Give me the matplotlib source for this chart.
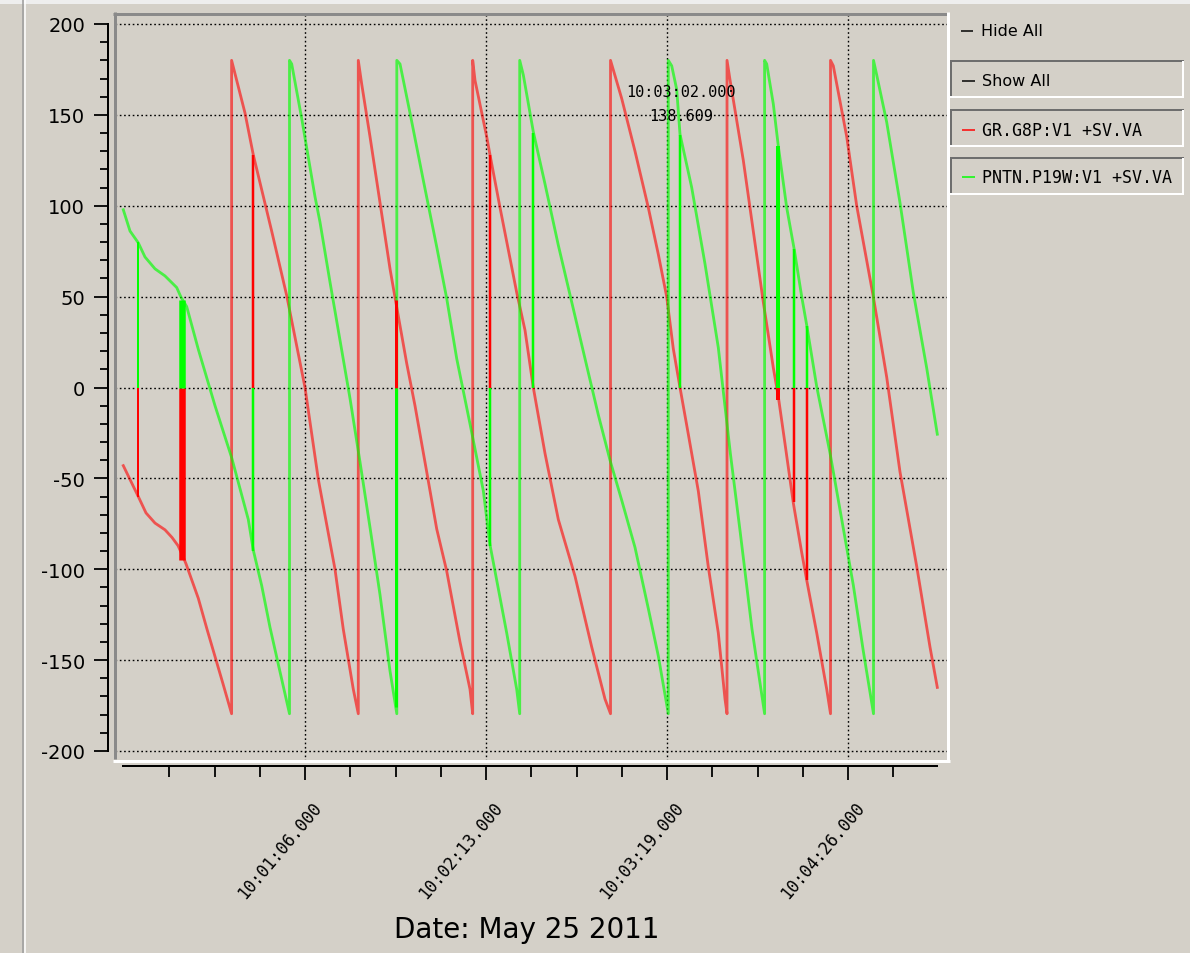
import numpy as np
import matplotlib
matplotlib.use('Agg')
import matplotlib.pyplot as plt
from matplotlib.transforms import ScaledTranslation

plt.rcParams['axes.unicode_minus'] = False

# ---------------- data (seconds after 10:00:00, phase angle in degrees) ----------------
red_t = [-0.26, 5.26, 8.09, 11.41, 15.08, 17.66, 19.87, 21.71, 22.81, 27.34, 30.54, 33.48, 36.42, 39.59,
         39.59, 44.52, 47.57, 54.34, 59.86, 66.59, 71.49, 77.63, 80.68, 84.36, 86.20,
         86.20, 87.45, 90.51, 94.19, 97.87, 99.89, 104.01, 107.06, 111.37, 115.05, 118.73, 123.62, 127.30, 128.29,
         128.29, 129.14, 133.44, 134.66, 138.34, 144.48, 147.54, 150.59, 154.89, 159.79, 165.93, 172.08, 176.97, 179.0,
         179.0, 183.11, 188.01, 192.9, 196.58, 199.67, 202.1, 204.56, 207.62, 211.3, 214.97, 218.65, 221.12, 221.86,
         221.86, 222.96, 227.85, 231.53, 235.21, 238.89, 240.73, 243.2, 246.25, 249.34, 251.18, 254.86, 258.54, 259.94,
         259.94, 260.96, 265.9, 269.57, 275.68, 280.61, 285.5, 291.65, 296.54, 299.23]
red_v = [-43, -60, -69, -74.6, -78.3, -82.5, -87, -93, -97, -116, -133, -148, -163, -179.5,
         180, 151, 128, 86, 50.6, 0, -50.5, -100, -133, -166, -179.5,
         180, 167, 138, 101.7, 65.3, 48, 13.3, -10, -46.4, -77.8, -101, -140, -166, -179.5,
         180, 169, 138, 128, 99, 52.3, 31.5, 0, -36.2, -72.6, -103.8, -142.8, -171.4, -179.5,
         180, 159, 130, 99, 73.3, 49.9, 21.3, 0, -25.7, -57, -98.6, -135, -171.4, -179.5,
         180, 169.3, 125, 86, 47, 10.9, -5, -31, -63.5, -90.8, -106, -135, -166, -179.5,
         180, 177, 138, 100, 50, 5.7, -46.4, -98.4, -142.8, -165]

green_t = [-0.26, 2.21, 5.26, 7.73, 11.41, 15.08, 19.39, 20.97, 23.07, 27.34, 33.48, 39.63, 45.73, 47.57,
           50.66, 53.72, 57.03, 60.89,
           60.89, 61.70, 65.38, 70.27, 72.11, 75.79, 79.47, 83.15, 86.83, 90.51, 94.19, 97.87, 100.37,
           100.37, 101.55, 105.23, 110.12, 115.05, 118.73, 122.41, 127.3, 132.19, 134.66, 137.12, 140.8, 144.48, 145.59,
           145.59, 146.91, 150.59, 154.89, 159.79, 164.72, 169.61, 174.5, 178.81, 183.11, 188.01, 192.9, 196.58, 200.26,
           200.26, 201.51, 203.35, 204.56, 208.87, 213.76, 218.65, 223.07, 226.75, 231.05, 235.69,
           235.69, 236.46, 238.89, 240.73, 243.82, 246.62, 249.34, 251.18, 254.86, 259.75, 264.64, 268.32, 272.0, 275.76,
           275.76, 276.93, 280.61, 285.5, 290.4, 295.33, 299.23]
green_v = [97.8, 86.1, 79.6, 71.8, 65.3, 61.4, 55, 49.7, 44.5, 21, -10, -38.7, -72.6, -89.5,
           -109, -132, -154, -179.5,
           180, 178, 148, 105, 91, 58, 26, -6, -41, -77, -114, -156, -179.5,
           180, 178, 151, 114, 77.4, 49, 15.9, -20, -56.7, -86.6, -106, -135, -166, -179.5,
           180, 172, 140.7, 112, 78.3, 47, 15.9, -15, -40, -62, -88, -121.6, -147.7, -179.5,
           180, 177, 164, 139.4, 110, 68, 22, -36, -80, -133, -179.5,
           180, 178, 156, 132.8, 99, 75.7, 50, 34.3, 0.5, -36, -77.5, -108.7, -145, -179.5,
           180, 172, 146, 101.7, 52.3, 10.7, -25.7]

# samples drawn as bars from zero
bar_t = [5.26, 21.52, 47.57, 99.89, 134.66, 150.59, 204.56, 240.62, 246.51, 251.18]
bar_red = [-60, -95, 128, 48, 128, 0, 0, -7, -63, -106]
bar_green = [80, 48, -90, -176, -87, 140, 139, 133, 76, 34]

x_tick_labels = ['10:01:06.000', '10:02:13.000', '10:03:19.000', '10:04:26.000']
date_label = 'Date: May 25 2011'
series_names = ['GR.G8P:V1 +SV.VA', 'PNTN.P19W:V1 +SV.VA']
annot_time = '10:03:02.000'
annot_value = '138.609'
annot_t = 204.56

# ---------------- styling / layout ----------------
W, H = 1190, 954
BG = '#d4d0c8'
PX = 0.72  # points per pixel at dpi 100
bar_w_px = [2, 6.5, 2.5, 3, 2.5, 2.5, 2.5, 4, 2.5, 2.5]
tick_step = 16.65

fig = plt.figure(figsize=(W / 100, H / 100), dpi=100, facecolor=BG)

L, R, T, B = 115, 948, 14.5, 761.5
ax = fig.add_axes([L / W, 1 - B / H, (R - L) / W, (B - T) / H])
ax.set_facecolor(BG)
pps = 2.718           # pixels per second
t0px = 124.0
y0px, ppu = 388.5, 1.8175
ax.set_xlim((L - t0px) / pps, (R - t0px) / pps)
ax.set_ylim((y0px - B) / ppu, (y0px - T) / ppu)

# grid
y_major = np.arange(-200, 201, 50)
y_minor = np.arange(-200, 201, 10)
x_major = tick_step * np.array([4, 8, 12, 16])
x_minor = tick_step * np.arange(1, 18)
ax.set_yticks(y_major)
ax.set_yticks(y_minor, minor=True)
ax.set_xticks(x_major)
ax.set_xticks(x_minor, minor=True)
ax.set_xticklabels([])
ax.grid(True, which='major', color='black', linewidth=1.0, linestyle=(0, (1.2, 1.9)), zorder=1)
ax.set_axisbelow(True)

for s in ['top', 'right']:
    ax.spines[s].set_visible(False)
ax.spines['left'].set_position(('outward', 7 * PX))
ax.spines['bottom'].set_position(('outward', 5.5 * PX))
ax.spines['left'].set_bounds(-200, 200)
ax.spines['bottom'].set_bounds(-0.4, 299.2)
ax.spines['left'].set_linewidth(2 * PX)
ax.spines['bottom'].set_linewidth(2 * PX)
ax.tick_params(axis='y', which='major', length=14 * PX, width=1.8 * PX, pad=9 * PX,
               labelsize=14, direction='out')
ax.tick_params(axis='y', which='minor', length=8 * PX, width=1.8 * PX, direction='out')
ax.tick_params(axis='x', which='major', length=14 * PX, width=1.8 * PX, direction='out')
ax.tick_params(axis='x', which='minor', length=11 * PX, width=1.8 * PX, direction='out')
for lab in ax.get_yticklabels():
    lab.set_fontfamily('DejaVu Sans')

# series lines
ax.plot(red_t, red_v, color='#ff0000', alpha=0.6, linewidth=2.8 * PX, zorder=3)
ax.plot(green_t, green_v, color='#00ff00', alpha=0.65, linewidth=2.8 * PX, zorder=3)

# bars from zero
for t, rv, gv, w in zip(bar_t, bar_red, bar_green, bar_w_px):
    if rv != 0:
        ax.vlines(t, 0, rv, color='#ff0000', linewidth=w * PX, zorder=4)
    if gv != 0:
        ax.vlines(t, 0, gv, color='#00ff00', linewidth=w * PX, zorder=4)

# x tick labels, rotated
lab_tr = ax.get_xaxis_transform() + ScaledTranslation(13 / 100, -43 / 100, fig.dpi_scale_trans)
for xt, lab in zip(x_major, x_tick_labels):
    ax.text(xt, 0, lab, transform=lab_tr, rotation=50, rotation_mode='anchor',
            ha='right', va='center', fontsize=12, family='DejaVu Sans Mono', clip_on=False)

# annotation
ax.text(annot_t + 0.3, 163, annot_time, ha='center', va='center', fontsize=11,
        family='DejaVu Sans Mono', zorder=6)
ax.text(annot_t + 0.3, 149.5, annot_value, ha='center', va='center', fontsize=11,
        family='DejaVu Sans Mono', zorder=6)

# ---------------- overlay in pixel coordinates ----------------
ov = fig.add_axes([0, 0, 1, 1], zorder=10)
ov.set_xlim(0, W)
ov.set_ylim(H, 0)
ov.axis('off')
ov.patch.set_visible(False)

def seg(x0, y0, x1, y1, c, w):
    ov.plot([x0, x1], [y0, y1], color=c, linewidth=w * PX, solid_capstyle='butt')

# plot frame (sunken)
seg(112.5, 14.5, 948, 14.5, '#8a8a8a', 3)
seg(114.5, 13, 114.5, 760, '#8a8a8a', 3)
seg(113, 761.5, 949.5, 761.5, '#ffffff', 3)
seg(948, 13, 948, 763, '#ffffff', 3)

# window edges
seg(22.5, 0, 22.5, H, '#9a9a9a', 1.5)
seg(24.5, 0, 24.5, H, '#ffffff', 1.5)
ov.add_patch(plt.Rectangle((0, 0), W, 5, color='#eeeeee', lw=0))

# date label
ov.text(527, 938, date_label, ha='center', va='baseline', fontsize=20, family='DejaVu Sans')

# legend buttons
def button(y_top, y_bot):
    seg(950, y_top, 1184, y_top, '#6e6e6e', 2)
    seg(951, y_top, 951, y_bot, '#6e6e6e', 2)
    seg(950, y_bot, 1184, y_bot, '#ffffff', 2)
    seg(1183, y_top, 1183, y_bot, '#ffffff', 2)

seg(961, 32, 973, 32, '#000000', 1.5)
ov.text(981, 32, 'Hide All', ha='left', va='center', fontsize=11.5, family='DejaVu Sans')

button(62, 98)
seg(962, 82, 975, 82, '#000000', 1.5)
ov.text(982, 82, 'Show All', ha='left', va='center', fontsize=11.5, family='DejaVu Sans')

button(111, 147)
seg(962, 131, 975, 131, '#ff0000', 1.5)
ov.text(982, 131, series_names[0], ha='left', va='center', fontsize=12, family='DejaVu Sans Mono')

button(159, 195)
seg(962, 178, 975, 178, '#00ff00', 1.5)
ov.text(982, 178, series_names[1], ha='left', va='center', fontsize=12, family='DejaVu Sans Mono')

fig.savefig('out.png', dpi=100, facecolor=BG)
